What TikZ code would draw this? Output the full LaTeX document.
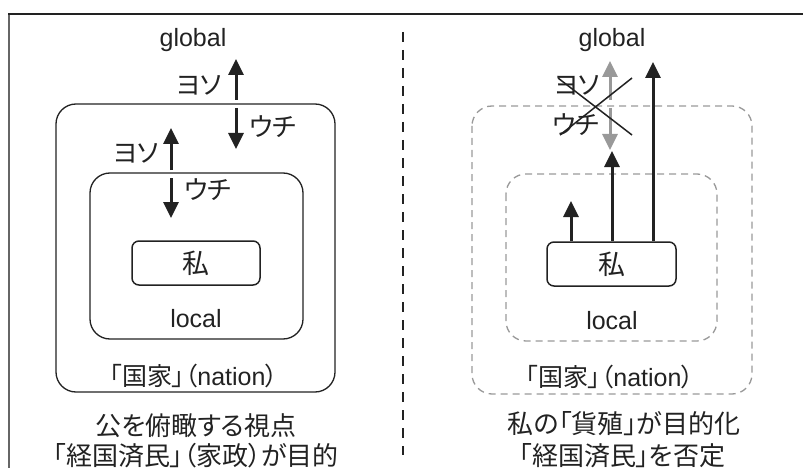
\documentclass[tikz,border=0pt]{standalone}
\usepackage{fontspec}
\setmainfont{Liberation Sans}
\newfontfamily\jp[RawFeature=+palt]{Noto Sans CJK JP}
\usetikzlibrary{arrows.meta}
\definecolor{ink}{HTML}{222222}
\definecolor{dgray}{HTML}{999999}
\tikzset{
  lbl/.style={inner sep=0pt, text=ink, font=\fontsize{25}{30}\selectfont},
  kata/.style={inner sep=0pt, text=ink, font=\fontsize{26}{30}\selectfont\jp},
  captxt/.style={inner sep=0pt, text=ink, font=\fontsize{26}{30}\selectfont\jp},
  solidbox/.style={draw=ink, line width=1.3pt, rounded corners=20pt},
  dashbox/.style={draw=dgray, line width=1.3pt, rounded corners=20pt, dash pattern=on 7pt off 5pt},
  mebox/.style={draw=ink, line width=1.5pt, rounded corners=7pt},
  arr/.style={draw=ink, line width=3pt, -{Triangle[width=15pt,length=16pt]}},
  garr/.style={draw=dgray, line width=3pt, -{Triangle[width=15pt,length=16pt]}},
}
\begin{document}
\begin{tikzpicture}[x=1pt,y=-1pt]
\useasboundingbox (0,0) rectangle (803,468);
% frame
\draw[line width=2pt, gray!80!black] (9,14) -- (9,468);
\draw[line width=1.5pt, ink] (8,14) -- (803,14);
% separator
\draw[line width=2.5pt, ink, dash pattern=on 10pt off 8pt] (403,32) -- (403,455);

% ---------- left panel ----------
\node[lbl] (globL) at (193,40) {global};
\draw[solidbox] (56,104) rectangle (335,392);
\draw[solidbox] (90,173) rectangle (303,339);
\node[mebox, minimum width=128pt, minimum height=44pt, inner sep=0pt] (meL) at (196,263) {};
\node[inner sep=0pt, text=ink, font=\fontsize{27}{30}\selectfont\jp] (meLt) at (196,263) {私};
\node[lbl] (localL) at (196,319) {local};
\node[lbl] (natL) at (194,376) {\jp 「国家」（\rmfamily nation\jp ）};
\coordinate (u1a) at (236,100); \coordinate (u1b) at (236,59);
\coordinate (d1a) at (236,108); \coordinate (d1b) at (236,149);
\draw[arr] (u1a) -- (u1b);
\draw[arr] (d1a) -- (d1b);
\node[kata] (yoso1) at (199,85) {ヨソ};
\node[kata] (uchi1) at (273,127) {ウチ};
\coordinate (u2a) at (171,170); \coordinate (u2b) at (171,128);
\coordinate (d2a) at (171,178); \coordinate (d2b) at (171,218);
\draw[arr] (u2a) -- (u2b);
\draw[arr] (d2a) -- (d2b);
\node[kata] (yoso2) at (136,153) {ヨソ};
\node[kata] (uchi2) at (208,190) {ウチ};
\node[captxt] (capL1) at (196,426) {公を俯瞰する視点};
\node[captxt] (capL2) at (196,456) {「経国済民」（家政）が目的};

% ---------- right panel ----------
\node[lbl] (globR) at (612,40) {global};
\draw[dashbox] (472,106) rectangle (752,394);
\draw[dashbox] (506,174) rectangle (717,341);
\node[mebox, minimum width=129pt, minimum height=44pt, inner sep=0pt] (meR) at (611.5,264) {};
\node[inner sep=0pt, text=ink, font=\fontsize{27}{30}\selectfont\jp] (meRt) at (611.5,264) {私};
\node[lbl] (localR) at (612,321) {local};
\node[lbl] (natR) at (610,377) {\jp 「国家」（\rmfamily nation\jp ）};
\coordinate (gu1) at (610,100); \coordinate (gu2) at (610,61);
\coordinate (gd1) at (610,108); \coordinate (gd2) at (610,150);
\draw[garr] (gu1) -- (gu2);
\draw[garr] (gd1) -- (gd2);
\node[kata] (yoso3) at (577,85) {ヨソ};
\node[kata] (uchi3) at (576,125) {ウチ};
\coordinate (x1) at (558,78); \coordinate (x2) at (632,135);
\coordinate (x3) at (632,78); \coordinate (x4) at (560,135);
\draw[ink, line width=1.5pt] (x1) -- (x2);
\draw[ink, line width=1.5pt] (x3) -- (x4);
\coordinate (t1) at (571,201); \coordinate (t2) at (612,151); \coordinate (t3) at (653,62);
\draw[arr] (meR.north -| t1) -- (t1);
\draw[arr] (meR.north -| t2) -- (t2);
\draw[arr] (meR.north -| t3) -- (t3);
\node[captxt] (capR1) at (624,424) {私の「貨殖」が目的化};
\node[captxt] (capR2) at (622,456) {「経国済民」を否定};
\end{tikzpicture}
\end{document}
